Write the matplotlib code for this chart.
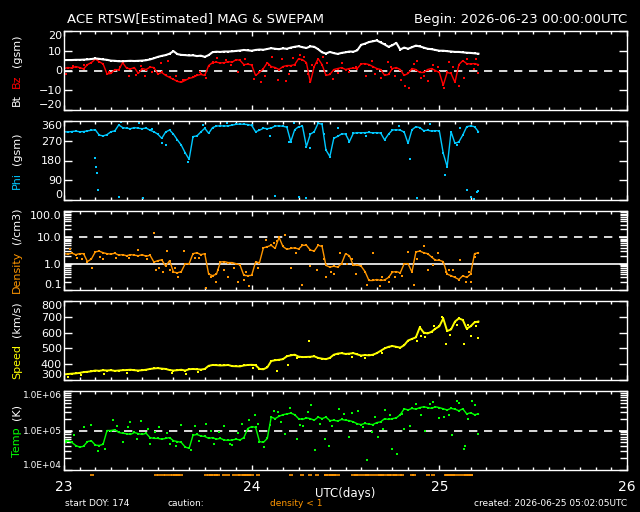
import matplotlib
matplotlib.use("Agg")
import matplotlib.pyplot as plt
import matplotlib.ticker as mticker
import matplotlib.transforms as mtrans
import numpy as np

# --- data (half-hour samples from 2026-06-23 00:00 UTC) ---
hours = np.arange(0, 53.5, 0.5)

bt = [5.3, 5.3, 5.3, 5.4, 5.4, 5.5, 5.6, 5.8, 6.1, 5.9, 5.6, 5.4,
      5.0, 4.9, 4.7, 4.7, 4.8, 4.9, 4.8, 4.9, 5.0, 5.2, 5.6, 6.2,
      6.9, 7.4, 7.8, 8.5, 9.8, 8.3, 7.9, 7.8, 7.6, 7.7, 7.3, 7.5,
      6.9, 7.8, 9.3, 9.5, 9.4, 9.6, 9.6, 9.7, 9.9, 10.1, 10.4, 10.2,
      10.0, 10.4, 10.6, 10.5, 10.9, 11.3, 11.0, 10.8, 11.2, 11.0, 11.6, 12.0,
      12.3, 11.8, 11.4, 12.2, 12.0, 10.8, 9.2, 8.6, 9.4, 8.8, 8.4, 8.9,
      9.2, 9.6, 9.5, 10.2, 13.0, 13.6, 14.4, 14.8, 15.2, 14.2, 13.2, 12.0,
      12.8, 14.0, 10.6, 11.6, 11.0, 11.8, 12.6, 12.2, 11.6, 11.0, 10.8, 10.4,
      10.0, 10.0, 9.8, 9.6, 9.4, 9.4, 9.2, 9.0, 8.9, 8.7, 8.5]

bz = [1.0, 1.5, 1.2, 2.0, 1.5, 0.8, 3.0, 4.0, 5.8, 4.5, 3.3, -1.7,
      -1.5, 0.5, 0.3, 4.0, 1.2, 0.8, 1.5, -1.5, 1.0, 0.5, 1.7, 1.5,
      -1.7, -1.0, -2.5, -3.5, -4.5, -5.5, -6.0, -5.0, -4.0, -3.5, -2.5, -2.0,
      -2.5, 2.5, 4.0, 4.2, 3.8, 4.0, 4.5, 4.2, 5.5, 5.2, 3.0, 3.2,
      2.8, -2.5, -1.0, 1.0, 4.0, 2.0, 1.5, 0.5, 2.0, 2.5, 2.5, 3.0,
      6.0, 5.5, 4.0, -6.0, 2.0, 6.0, 3.0, -2.5, -2.0, 0.5, 1.0, 1.5,
      0.5, 1.0, 1.2, 1.0, 3.3, 3.5, 3.0, 2.0, 1.0, 0.5, -2.5, -2.0,
      1.0, 1.5, 0.5, -2.5, -1.5, 1.0, 0.5, -1.0, -1.0, 0.5, 1.0, 0.0,
      -1.0, -7.5, -1.0, -1.5, -6.0, 3.0, 5.0, 3.5, 3.3, 3.5, 3.0]
bz_out_h = [0.3, 2.5, 5.8, 8.3, 9.2, 10.3, 11.2, 12.4, 13.3, 16.8, 18.2, 19.6,
            20.7, 22.3, 24.3, 25.2, 26.6, 27.4, 27.9, 28.4, 29.3, 30.2, 31.2,
            32.3, 33.1, 34.4, 35.6, 36.4, 38.6, 39.4, 40.6, 41.4, 42.3, 43.6,
            44.1, 44.8, 45.6, 46.5, 47.2, 48.6, 49.2, 50.5, 51.6, 52.4, 53.0,
            1.2, 4.2, 7.2, 9.8, 14.3, 15.2, 17.4, 19.1, 21.3, 23.2, 25.7, 26.2,
            28.8, 30.7, 31.7, 33.6, 35.1, 37.3, 39.8, 41.8, 43.1, 45.2, 46.1,
            47.8, 49.7, 51.1, 52.7]
bz_out_v = [-2, 3, -1, -3, -2.5, -3, -1, 4, 5, -3, -4, 6.5,
            5.5, -1, -4.5, -6, 7, -5, 6, -5.5, 6.5, 8, -2,
            4, 7, -4.5, 4, -1, -3, 5, -4, 4.5, -3, -8,
            -9, 3.5, -4, -5.5, 3, -9, 4.5, -8, 6, 1, -1.5,
            2.5, 6, 2, 2.5, -3, -5, -1, 4.5, 3, 6, -3, 3,
            -2, 7, 3, 4, -1.5, 2, -2, 2, -5, 5, -3,
            2, 2, -4, 6]

phi = [311, 310, 312, 314, 311, 312, 315, 318, 320, 296, 292, 298,
       311, 315, 342, 330, 327, 325, 330, 327, 325, 328, 318, 311,
       300, 281, 310, 319, 300, 274, 250, 215, 185, 289, 292, 310,
       327, 304, 330, 337, 338, 337, 338, 341, 345, 346, 345, 344,
       340, 311, 318, 327, 325, 328, 337, 338, 336, 332, 266, 320,
       334, 336, 243, 300, 311, 350, 345, 228, 198, 281, 290, 301,
       301, 266, 304, 307, 306, 307, 308, 306, 307, 305, 274, 300,
       319, 320, 318, 310, 258, 320, 334, 330, 316, 318, 314, 316,
       315, 213, 152, 311, 258, 265, 296, 334, 338, 334, 311]
phi_out_h = [4.0, 4.1, 4.2, 4.3, 7.0, 10.1, 12.5, 13.0, 15.8, 27.0, 28.8, 30.1,
             31.0, 31.5, 35.0, 44.3, 45.2, 48.7, 50.2, 51.6, 52.0, 52.4, 52.8, 53.0,
             7.3, 9.6, 11.2, 17.8, 20.8, 26.3, 29.4, 33.2, 38.6, 42.8, 46.8, 50.6]
phi_out_v = [190, 150, 122, 45, 15, 8, 258, 250, 175, 18, 265, 12,
             8, 235, 330, 185, 8, 114, 250, 45, 15, 5, 35, 42,
             355, 350, 325, 340, 352, 290, 350, 300, 290, 335, 345, 330]

density = [2.4, 2.3, 2.5, 2.2, 2.4, 2.4, 1.2, 1.5, 2.8, 3.0, 2.6, 2.4,
           2.3, 2.5, 2.1, 2.2, 2.0, 2.2, 2.1, 2.0, 2.2, 1.9, 2.1, 1.15,
           1.3, 1.4, 0.8, 1.3, 0.48, 0.45, 0.5, 1.0, 1.0, 2.4, 2.6, 2.2,
           2.4, 0.4, 0.35, 0.4, 1.15, 1.2, 1.1, 1.1, 1.0, 0.9, 0.36, 0.35,
           0.36, 1.15, 1.1, 4.0, 4.4, 5.0, 3.8, 10.0, 4.5, 3.5, 3.8, 4.0,
           3.6, 5.0, 5.0, 3.3, 3.0, 5.0, 4.5, 0.86, 0.74, 0.8, 0.74, 1.0,
           2.4, 2.0, 0.86, 0.9, 0.8, 0.5, 0.23, 0.23, 0.25, 0.23, 0.24, 0.3,
           0.48, 0.5, 0.45, 1.0, 1.0, 0.48, 2.8, 3.0, 2.6, 2.4, 1.8, 1.35,
           1.35, 1.2, 0.4, 0.35, 0.3, 0.25, 0.35, 0.3, 0.4, 2.4, 2.6]
den_out_h = [0.8, 1.6, 3.6, 5.0, 9.5, 11.5, 11.8, 12.6, 13.2, 13.6, 14.6, 15.4,
             17.3, 18.1, 18.8, 19.4, 20.5, 21.0, 22.2, 23.0, 23.6, 24.8, 25.8,
             26.8, 28.3, 29.0, 30.4, 31.4, 32.4, 33.5, 34.5, 35.3, 36.8, 37.3,
             38.7, 39.5, 40.4, 41.6, 43.2, 44.0, 44.8, 46.0, 46.5, 47.8, 48.8,
             49.8, 50.6, 51.4, 52.0, 52.6,
             2.3, 4.6, 6.7, 8.3, 10.6, 12.2, 14.2, 16.7, 19.7, 21.7, 23.3,
             27.3, 29.7, 33.2, 34.2, 36.2, 40.7, 42.3, 45.2, 47.2, 49.2, 51.8]
den_out_v = [3.5, 1.6, 0.7, 1.5, 3.3, 14, 0.6, 0.5, 3.0, 0.6, 0.3, 3.0,
             1.6, 0.12, 0.3, 0.2, 0.6, 0.3, 0.2, 0.25, 0.14, 0.7, 8.0,
             6.0, 12, 0.7, 0.15, 0.8, 0.6, 0.3, 0.4, 2.5, 1.5, 0.4,
             0.15, 2.5, 0.14, 0.2, 0.35, 2.8, 0.15, 4.5, 0.6, 2.5, 0.5,
             0.6, 1.4, 0.2, 0.2, 1.8,
             1.5, 1.8, 1.6, 1.7, 1.5, 0.7, 0.7, 1.6, 0.6, 0.7, 0.5,
             7.0, 2.5, 1.5, 0.5, 1.0, 0.3, 0.3, 1.5, 0.9, 0.6, 0.5]

speed = [335, 338, 340, 342, 345, 350, 352, 355, 360, 358, 362, 360,
         362, 358, 360, 362, 363, 365, 362, 360, 362, 365, 370, 373,
         375, 372, 370, 363, 360, 362, 365, 360, 368, 370, 368, 366,
         370, 390, 395, 394, 392, 393, 395, 388, 387, 386, 392, 395,
         396, 394, 370, 368, 380, 420, 425, 428, 432, 450, 456, 460,
         448, 445, 446, 447, 450, 440, 435, 432, 440, 460, 467, 470,
         465, 467, 470, 462, 455, 458, 456, 460, 470, 485, 500, 510,
         515, 510, 505, 520, 550, 560, 570, 633, 600, 595, 605, 625,
         640, 690, 610, 620, 670, 690, 680, 625, 640, 665, 670]
spd_out_h = [0.5, 2.2, 5.1, 8.0, 13.8, 15.6, 17.2, 24.2, 27.3, 28.6, 29.8, 31.3,
             36.8, 38.5, 40.7, 45.1, 46.2, 48.9, 49.4, 51.1, 52.0, 53.0,
             45.7, 47.3, 48.3, 50.3, 51.7, 52.7]
spd_out_v = [320, 330, 335, 345, 345, 338, 350, 375, 360, 395, 440, 546,
             445, 440, 470, 545, 575, 530, 585, 530, 580, 567,
             580, 640, 700, 650, 650, 640]

temp = [57500, 55000, 50000, 41700, 38000, 39800, 52500, 55000, 42700, 41700, 44700, 100000,
        100000, 104700, 89100, 85100, 83200, 79400, 89100, 83200, 79400, 85100, 66100, 63100,
        63100, 60300, 63100, 66100, 55000, 52500, 50000, 38000, 35500, 75900, 79400, 72400,
        70800, 63100, 66100, 60300, 63100, 57500, 56200, 57500, 60300, 57500, 66100, 112200,
        125900, 120200, 52500, 50000, 63100, 218800, 199500, 229100, 251200, 263000, 275400, 251200,
        199500, 190500, 208900, 199500, 182000, 218800, 199500, 218800, 177800, 182000, 173800, 190500,
        182000, 177800, 166000, 147900, 141300, 151400, 144500, 141300, 158500, 166000, 199500, 190500,
        199500, 208900, 251200, 354800, 331100, 363100, 346700, 380200, 398100, 380200, 363100, 398100,
        380200, 354800, 331100, 363100, 346700, 316200, 354800, 263000, 281800, 251200, 263000]
tmp_out_h = [0.2, 2.6, 3.4, 5.2, 6.3, 7.5, 8.5, 9.8, 11.0, 12.2, 13.5, 15.0, 16.2,
             16.8, 18.2, 19.2, 20.4, 21.5, 22.8, 23.6, 24.4, 25.6, 26.3, 27.4,
             28.2, 28.9, 29.8, 30.6, 31.6, 32.1, 33.4, 33.9, 35.2, 36.4, 37.6,
             38.8, 39.4, 40.2, 41.0, 42.0, 42.6, 43.5, 45.0, 46.2, 47.2, 48.0,
             49.6, 50.5, 51.1, 51.3, 52.2, 53.0,
             1.3, 4.3, 6.8, 8.2, 9.3, 10.7, 11.7, 13.2, 14.3, 17.3, 18.8, 19.8,
             21.2, 22.3, 24.8, 26.8, 27.8, 30.2, 31.2, 32.7, 34.3, 35.8, 36.8,
             38.2, 39.8, 40.8, 41.7, 43.2, 44.2, 45.6, 46.8, 48.6, 49.2, 50.2,
             51.7, 52.6]
tmp_out_v = [5e4, 1.2e5, 1.4e5, 3.5e4, 1.8e5, 5e4, 1.6e5, 1.7e5, 4.5e4, 1.2e5, 4.5e4,
             1.4e5, 3.2e4, 1.3e5, 1.5e5, 4.5e4, 1.3e5, 4.2e4, 1.45e5, 1.8e5, 2.5e5,
             3.8e4, 1.4e5, 3.0e5, 8.0e4, 3.8e5, 6.0e4, 1.3e5, 4.5e5, 3.2e4, 6.0e4,
             4.0e4, 3.5e5, 7e4, 3.2e5, 1.8e4, 9e4, 7e4, 3.3e5, 3.4e4, 2.6e4, 1.1e5,
             4.8e5, 9.5e4, 5.2e5, 2.1e5, 7.5e4, 5.0e5, 3.5e4, 4.0e4, 5.5e5, 8.0e4,
             7.5e4, 3.0e4, 1.3e5, 1.2e5, 6.0e4, 1.1e5, 9.0e4, 8.5e4, 4.0e4, 5.5e4,
             9.5e4, 9.0e4, 4.5e4, 8.5e4, 1.5e5, 3.2e5, 1.6e5, 1.4e5, 3.0e5, 1.5e5,
             1.3e5, 2.6e5, 2.8e5, 1.2e5, 2.2e5, 1.1e5, 2.4e5, 2.6e5, 1.3e5, 2.5e5,
             4.8e5, 2.2e5, 2.5e5, 5.5e5, 2.0e5, 4.5e5]

# --- figure setup ---
plt.rcParams['font.family'] = ['DejaVu Sans']
W, H = 640, 512
fig = plt.figure(figsize=(6.4, 5.12), dpi=100, facecolor='black')

panel_px = [(31, 110), (121, 200), (211, 290), (301, 380), (391, 470)]
axes = []
for top, bot in panel_px:
    ax = fig.add_axes([64 / W, 1 - bot / H, (627 - 64) / W, (bot - top) / H])
    ax.set_facecolor('black')
    for sp in ax.spines.values():
        sp.set_color('white')
        sp.set_linewidth(1.0)
    ax.set_xlim(23, 26)
    ax.xaxis.set_major_locator(mticker.MultipleLocator(1))
    ax.xaxis.set_minor_locator(mticker.MultipleLocator(1 / 12))
    ax.tick_params(axis='both', which='both', direction='in', colors='white',
                   top=True, right=True, labelsize=8, width=1.0)
    ax.tick_params(axis='x', which='major', length=3.5, labelbottom=False)
    ax.tick_params(axis='x', which='minor', length=2)
    ax.tick_params(axis='y', which='major', length=6, pad=1.5)
    ax.tick_params(axis='y', which='minor', length=5)
    axes.append(ax)


def days(h):
    return 23 + np.asarray(h) / 24


def draw(ax, values, color, out_h=None, out_v=None, lw=1.0):
    ax.plot(days(hours), values, color=color, lw=lw, marker='s', ms=2.1, mew=0)
    if out_h is not None:
        ax.plot(days(out_h), out_v, ls='none', color=color, marker='s', ms=1.7, mew=0)


def end_labels(ax):
    labs = ax.yaxis.get_major_ticks()
    labs[0].label1.set_va('bottom')
    labs[-1].label1.set_va('top')


dash = (0, (5, 4))
c_red, c_cyan, c_orange, c_yellow, c_green = '#ff0000', '#00c8ff', '#ff9600', '#ffff00', '#00ff00'

# Bt / Bz
ax = axes[0]
ax.axhline(0, color='white', lw=1.2, ls=dash)
draw(ax, bz, c_red, bz_out_h, bz_out_v)
draw(ax, bt, 'white', lw=1.5)
ax.set_ylim(-20, 20)
ax.set_yticks([-20, -10, 0, 10, 20])
end_labels(ax)

# Phi
ax = axes[1]
draw(ax, phi, c_cyan, phi_out_h, phi_out_v)
ax.set_ylim(0, 360)
ax.set_yticks([0, 90, 180, 270, 360])
end_labels(ax)

# Density
ax = axes[2]
ax.set_yscale('log')
ax.axhline(10, color='white', lw=1.2, ls=dash)
ax.axhline(1, color='white', lw=1.2)
draw(ax, density, c_orange, den_out_h, den_out_v)
ax.set_ylim(0.1, 100)
ax.set_yticks([0.1, 1, 10, 100])
ax.set_yticklabels(['0.1', '1.0', '10.0', '100.0'])
ax.yaxis.set_minor_locator(mticker.LogLocator(base=10, subs=np.arange(2, 10)))
ax.yaxis.set_minor_formatter(mticker.NullFormatter())
end_labels(ax)

# Speed
ax = axes[3]
draw(ax, speed, c_yellow, spd_out_h, spd_out_v, lw=1.4)
ax.set_ylim(300, 800)
ax.set_yticks([300, 400, 500, 600, 700, 800])
end_labels(ax)

# Temperature
ax = axes[4]
ax.set_yscale('log')
ax.axhline(1e5, color='white', lw=1.2, ls=dash)
draw(ax, temp, c_green, tmp_out_h, tmp_out_v)
ax.set_ylim(1e4, 1e6)
ax.set_yticks([1e4, 1e5, 1e6])
ax.set_yticklabels(['1.0E+04', '1.0E+05', '1.0E+06'], fontsize=6.5)
ax.yaxis.set_minor_locator(mticker.LogLocator(base=10, subs=np.arange(2, 10)))
ax.yaxis.set_minor_formatter(mticker.NullFormatter())
end_labels(ax)
ax.tick_params(axis='x', which='major', labelbottom=True, labelsize=10, pad=7)
ax.set_xticks([23, 24, 25, 26])
ax.set_xticklabels(['23', '24', '25', '26'])

# caution marks: density below 1
low_h = [h for h, d in zip(hours, density) if d < 1] + \
        [h for h, d in zip(den_out_h, den_out_v) if d < 1]
trans = mtrans.blended_transform_factory(ax.transData, ax.transAxes)
ax.plot(days(low_h), np.full(len(low_h), -0.065), ls='none', marker='_', ms=3,
        mew=1.2, color=c_orange, transform=trans, clip_on=False)

# --- multicoloured y labels ---
ylabels = [
    [('Bt', 'white'), ('Bz', c_red), ('(gsm)', 'white')],
    [('Phi', c_cyan), ('(gsm)', 'white')],
    [('Density', c_orange), ('(/cm3)', 'white')],
    [('Speed', c_yellow), ('(km/s)', 'white')],
    [('Temp', c_green), ('(K)', 'white')],
]
label_sets = []
for ax, parts in zip(axes, ylabels):
    first = ax.text(17 / W, 0.0, parts[0][0], color=parts[0][1], rotation=90,
                    ha='center', va='bottom', fontsize=8, transform=fig.transFigure)
    texts = [first]
    for txt, col in parts[1:]:
        t = ax.annotate(txt, xy=(0.5, 1.0), xycoords=texts[-1], xytext=(0, 5),
                        textcoords='offset points', color=col, rotation=90,
                        ha='center', va='bottom', fontsize=8, annotation_clip=False)
        texts.append(t)
    label_sets.append((ax, texts))

fig.canvas.draw()
for ax, texts in label_sets:
    r = fig.canvas.get_renderer()
    y0 = texts[0].get_window_extent(r).y0
    y1 = texts[-1].get_window_extent(r).y1
    bb = ax.get_window_extent(r)
    centre = (bb.y0 + bb.y1) / 2
    texts[0].set_y((centre - (y1 - y0) / 2) / fig.bbox.height)

# --- titles and footer ---
fig.text(67 / W, 1 - 19 / H, 'ACE RTSW[Estimated] MAG & SWEPAM', color='white',
         fontsize=9.5, va='center', ha='left')
fig.text(627 / W, 1 - 19 / H, 'Begin: 2026-06-23 00:00:00UTC', color='white',
         fontsize=9.5, va='center', ha='right')
fig.text(345.5 / W, 1 - 494 / H, 'UTC(days)', color='white', fontsize=8.5,
         va='center', ha='center')
fig.text(65 / W, 1 - 504 / H, 'start DOY: 174', color='white', fontsize=6.5, va='center')
fig.text(167 / W, 1 - 504 / H, 'caution:', color='white', fontsize=6.5, va='center')
fig.text(270 / W, 1 - 504 / H, 'density < 1', color=c_orange, fontsize=6.5, va='center')
fig.text(627 / W, 1 - 504 / H, 'created: 2026-06-25 05:02:05UTC', color='white',
         fontsize=6.5, va='center', ha='right')

fig.savefig('out.png', dpi=100, facecolor='black')
